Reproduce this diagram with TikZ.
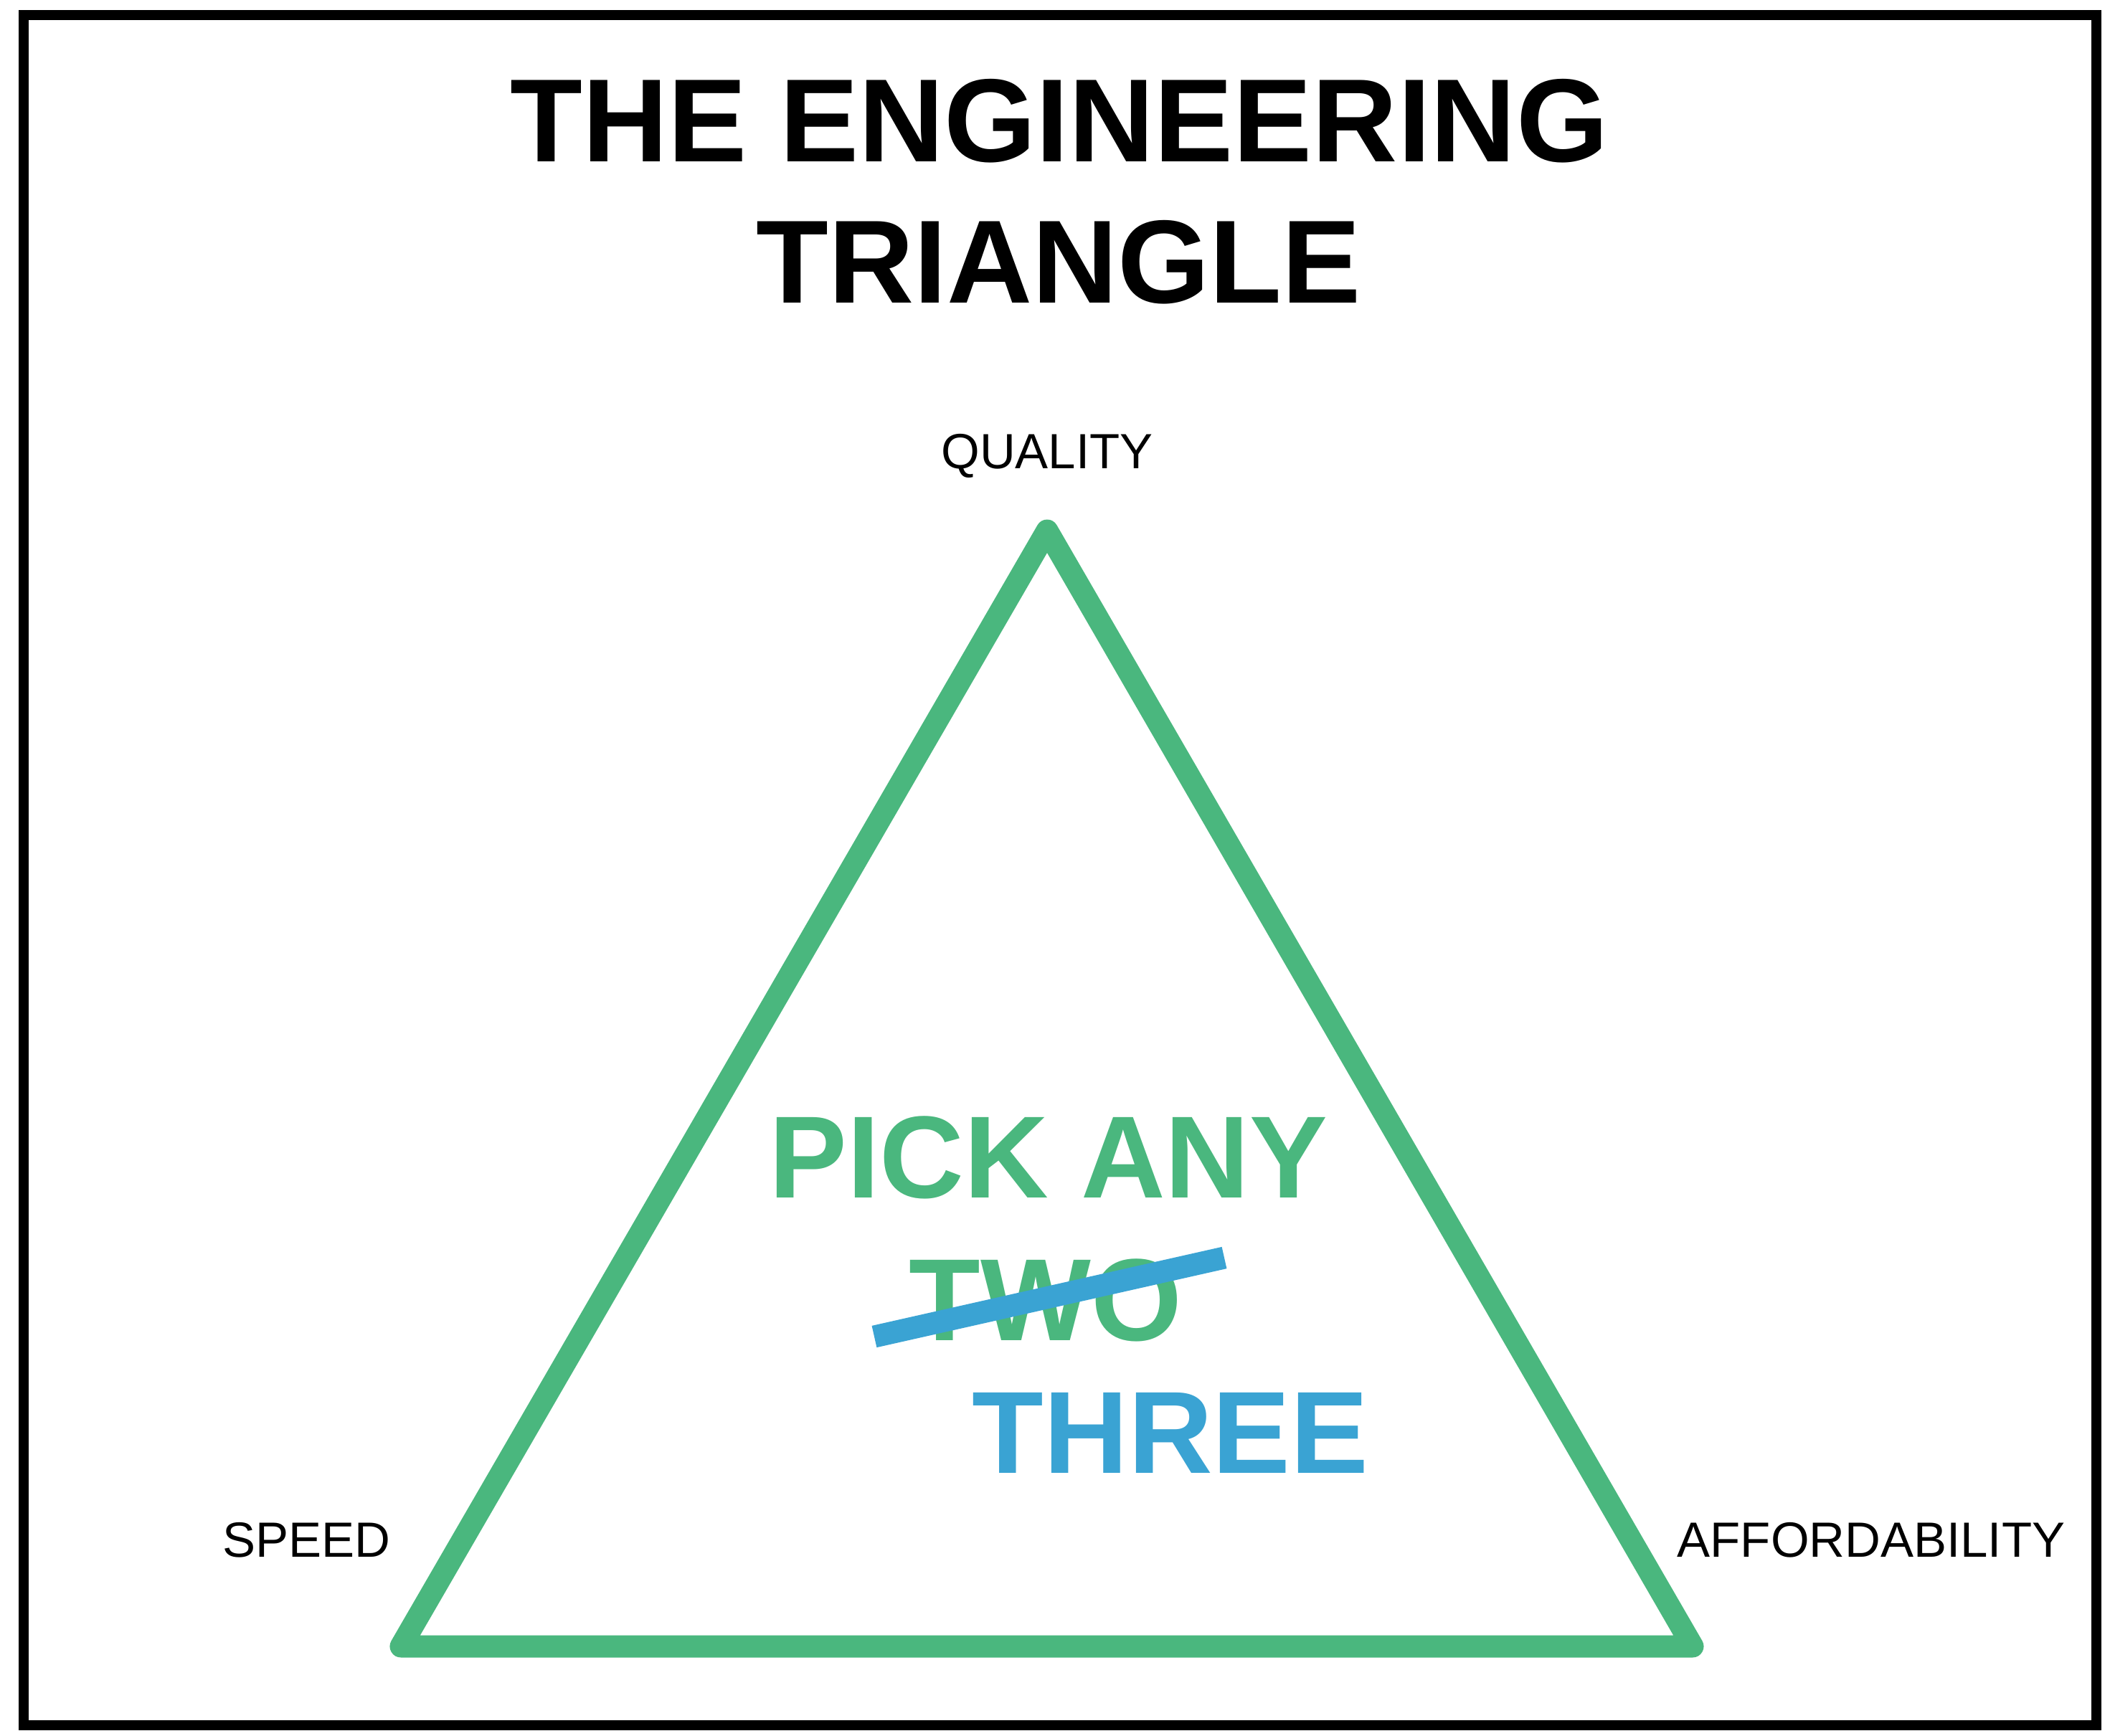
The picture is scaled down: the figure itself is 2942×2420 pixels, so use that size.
\documentclass[tikz,border=0pt]{standalone}
\usepackage{fontspec}
\setmainfont{Liberation Sans}
\definecolor{tgreen}{HTML}{4AB77E}
\definecolor{tblue}{HTML}{3AA3D3}
\begin{document}
\begin{tikzpicture}[x=1pt,y=-1pt,
  lbl/.style={inner sep=0pt,anchor=base,font=\fontsize{69}{80}\selectfont},
  ttl/.style={inner sep=0pt,anchor=base,font=\fontsize{165}{190}\selectfont\bfseries},
  big/.style={inner sep=0pt,anchor=base,font=\fontsize{163}{190}\selectfont\bfseries},
  tri/.style={draw=tgreen,line width=31pt,line join=round,line cap=round}]
\useasboundingbox (0,0) rectangle (2942,2420);
\draw[line width=14pt] (33,21) rectangle (2923,2406);
\node[ttl] (t1) at (1477,225) {THE ENGINEERING};
\node[ttl] (t2) at (1476,422) {TRIANGLE};
\coordinate (q) at (1460,740);
\coordinate (s) at (559,2296);
\coordinate (a) at (2360,2296);
\draw[tri] (q) -- (s) -- (a) -- cycle;
\node[lbl] (ql) at (1460,653) {QUALITY};
\node[lbl] (sl) at (427,2171) {SPEED};
\node[lbl] (al) at (2609,2171) {AFFORDABILITY};
\node[big,text=tgreen] (p1) at (1462,1670) {PICK ANY};
\node[big,text=tgreen] (p2) at (1458,1869) {TWO};
\node[big,text=tblue] (p3) at (1632,2054) {THREE};
\coordinate (k1) at (1219,1864);
\coordinate (k2) at (1707,1754);
\draw[tblue,line width=31pt] (k1) -- (k2);
\end{tikzpicture}
\end{document}
